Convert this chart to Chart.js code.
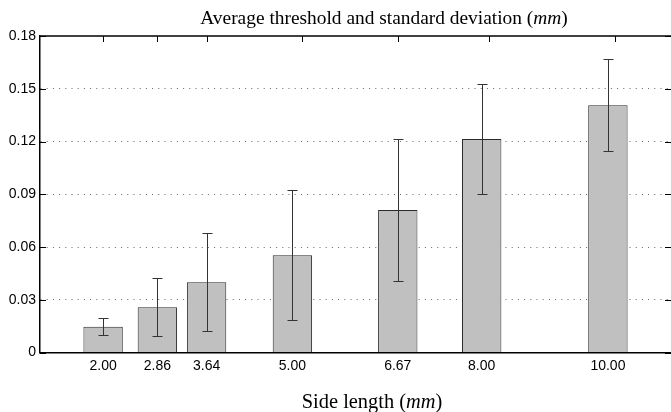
<!DOCTYPE html>
<html>
<head>
<meta charset="utf-8">
<script src="https://cdn.jsdelivr.net/npm/chart.js@4.4.0/dist/chart.umd.min.js"></script>
<style>
  html, body { margin: 0; padding: 0; background: #fff; overflow: hidden; }
  #wrap { width: 671px; height: 412px; }
</style>
</head>
<body>
<div id="wrap"><canvas id="thresholdChart"></canvas></div>
<script>
// side lengths (mm) and the measured thresholds
const sideLengths = [2.00, 2.86, 3.64, 5.00, 6.67, 8.00, 10.00];
const meanThreshold = [0.0146, 0.0258, 0.0400, 0.0553, 0.0810, 0.1214, 0.1406];
const stdDeviation = [0.0048, 0.0163, 0.0278, 0.0369, 0.0406, 0.0315, 0.0262];
const yTicks = [0, 0.03, 0.06, 0.09, 0.12, 0.15, 0.18];
const topTicks = [2.00, 2.85, 3.65, 5.15, 6.67, 8.12, 10.11];
const chartTitle = ["Average threshold and standard deviation (", "mm", ")"];
const xTitle = ["Side length (", "mm", ")"];

// draws a title where the middle part is italic (the math "mm")
function drawMixedTitle(ctx, parts, cx, baseline, size) {
    const normal = size + "px 'Liberation Serif'";
    const italic = "italic " + size + "px 'Liberation Serif'";
    const fonts = [normal, italic, normal];
    let total = 0;
    const widths = parts.map(function (p, i) {
        ctx.font = fonts[i];
        const w = ctx.measureText(p).width;
        total += w;
        return w;
    });
    let x = cx - total / 2;
    ctx.fillStyle = "#000";
    ctx.textBaseline = "alphabetic";
    ctx.textAlign = "left";
    parts.forEach(function (p, i) {
        ctx.font = fonts[i];
        ctx.fillText(p, x, baseline);
        x += widths[i];
    });
}

const framePlugin = {
    id: "framePlugin",
    beforeDatasetsDraw(chart) {
        const {ctx, chartArea: a, scales: {x, y}} = chart;
        ctx.save();
        ctx.strokeStyle = "#000";
        ctx.lineWidth = 1;
        ctx.beginPath();
        sideLengths.forEach(function (v) {
            const px = Math.round(x.getPixelForValue(v)) + 0.5;
            ctx.moveTo(px, a.bottom);
            ctx.lineTo(px, a.bottom - 6);
        });
        topTicks.forEach(function (v) {
            const px = Math.round(x.getPixelForValue(v)) + 0.5;
            ctx.moveTo(px, a.top);
            ctx.lineTo(px, a.top + 6);
        });
        yTicks.forEach(function (v) {
            const py = Math.round(y.getPixelForValue(v)) + 0.5;
            ctx.moveTo(a.left, py);
            ctx.lineTo(a.left + 6, py);
            ctx.moveTo(a.right, py);
            ctx.lineTo(a.right - 6, py);
        });
        ctx.stroke();
        // top edge of the box
        ctx.lineWidth = 1.5;
        ctx.beginPath();
        ctx.moveTo(a.left, a.top);
        ctx.lineTo(a.right, a.top);
        ctx.stroke();
        ctx.restore();
    },
    afterDatasetsDraw(chart) {
        const {ctx, scales: {x, y}} = chart;
        ctx.save();
        ctx.strokeStyle = "#333";
        ctx.lineWidth = 1;
        ctx.beginPath();
        sideLengths.forEach(function (v, i) {
            const px = Math.round(x.getPixelForValue(v)) + 0.5;
            const hi = Math.round(y.getPixelForValue(meanThreshold[i] + stdDeviation[i])) + 0.5;
            const lo = Math.round(y.getPixelForValue(meanThreshold[i] - stdDeviation[i])) + 0.5;
            ctx.moveTo(px, hi);
            ctx.lineTo(px, lo);
            ctx.moveTo(px - 5, hi);
            ctx.lineTo(px + 5, hi);
            ctx.moveTo(px - 5, lo);
            ctx.lineTo(px + 5, lo);
        });
        ctx.stroke();
        ctx.restore();
    },
    afterDraw(chart) {
        const ctx = chart.ctx;
        ctx.save();
        drawMixedTitle(ctx, chartTitle, 384, 24, 19.4);
        drawMixedTitle(ctx, xTitle, 372, 408, 20.4);
        ctx.restore();
    }
};

const ctx = document.getElementById("thresholdChart").getContext("2d");
const thresholdChart = new Chart(ctx, {
    type: "bar",
    data: {
        datasets: [{
            label: "Average threshold",
            data: sideLengths.map(function (v, i) { return {x: v, y: meanThreshold[i]}; }),
            backgroundColor: "#c0c0c0",
            borderColor: "#2a2a2a",
            borderWidth: 1,
            barPercentage: 0.8,
            categoryPercentage: 1.0
        }]
    },
    options: {
        responsive: true,
        maintainAspectRatio: false,
        animation: false,
        layout: {padding: {top: 36, right: 0, bottom: 0, left: 0}},
        plugins: {
            legend: {display: false},
            title: {display: false},
            tooltip: {enabled: false}
        },
        scales: {
            x: {
                type: "linear",
                min: 1,
                max: 11,
                offset: false,
                afterBuildTicks: function (scale) {
                    scale.ticks = sideLengths.map(function (v) { return {value: v}; });
                },
                afterFit: function (scale) { scale.height = 59.5; },
                ticks: {
                    autoSkip: false,
                    maxRotation: 0,
                    padding: 5,
                    color: "#000",
                    font: {family: "'Liberation Sans'", size: 14},
                    callback: function (v) { return Number(v).toFixed(2); }
                },
                grid: {display: false, drawTicks: false},
                border: {display: true, color: "#000", width: 1.5}
            },
            y: {
                min: 0,
                max: 0.18,
                afterBuildTicks: function (scale) {
                    scale.ticks = yTicks.map(function (v) { return {value: v}; });
                },
                afterFit: function (scale) { scale.width = 40; },
                ticks: {
                    padding: 4,
                    color: "#000",
                    font: {family: "'Liberation Sans'", size: 14},
                    callback: function (v) { return v === 0 ? "0" : Number(v).toFixed(2); }
                },
                grid: {
                    drawTicks: false,
                    lineWidth: 1,
                    color: function (c) {
                        if (!c.tick || c.tick.value === 0 || c.tick.value === 0.18) return "rgba(0,0,0,0)";
                        return "#666";
                    }
                },
                border: {display: true, color: "#000", width: 1.5, dash: [1, 5.2]}
            }
        }
    },
    plugins: [framePlugin]
});
</script>
</body>
</html>
